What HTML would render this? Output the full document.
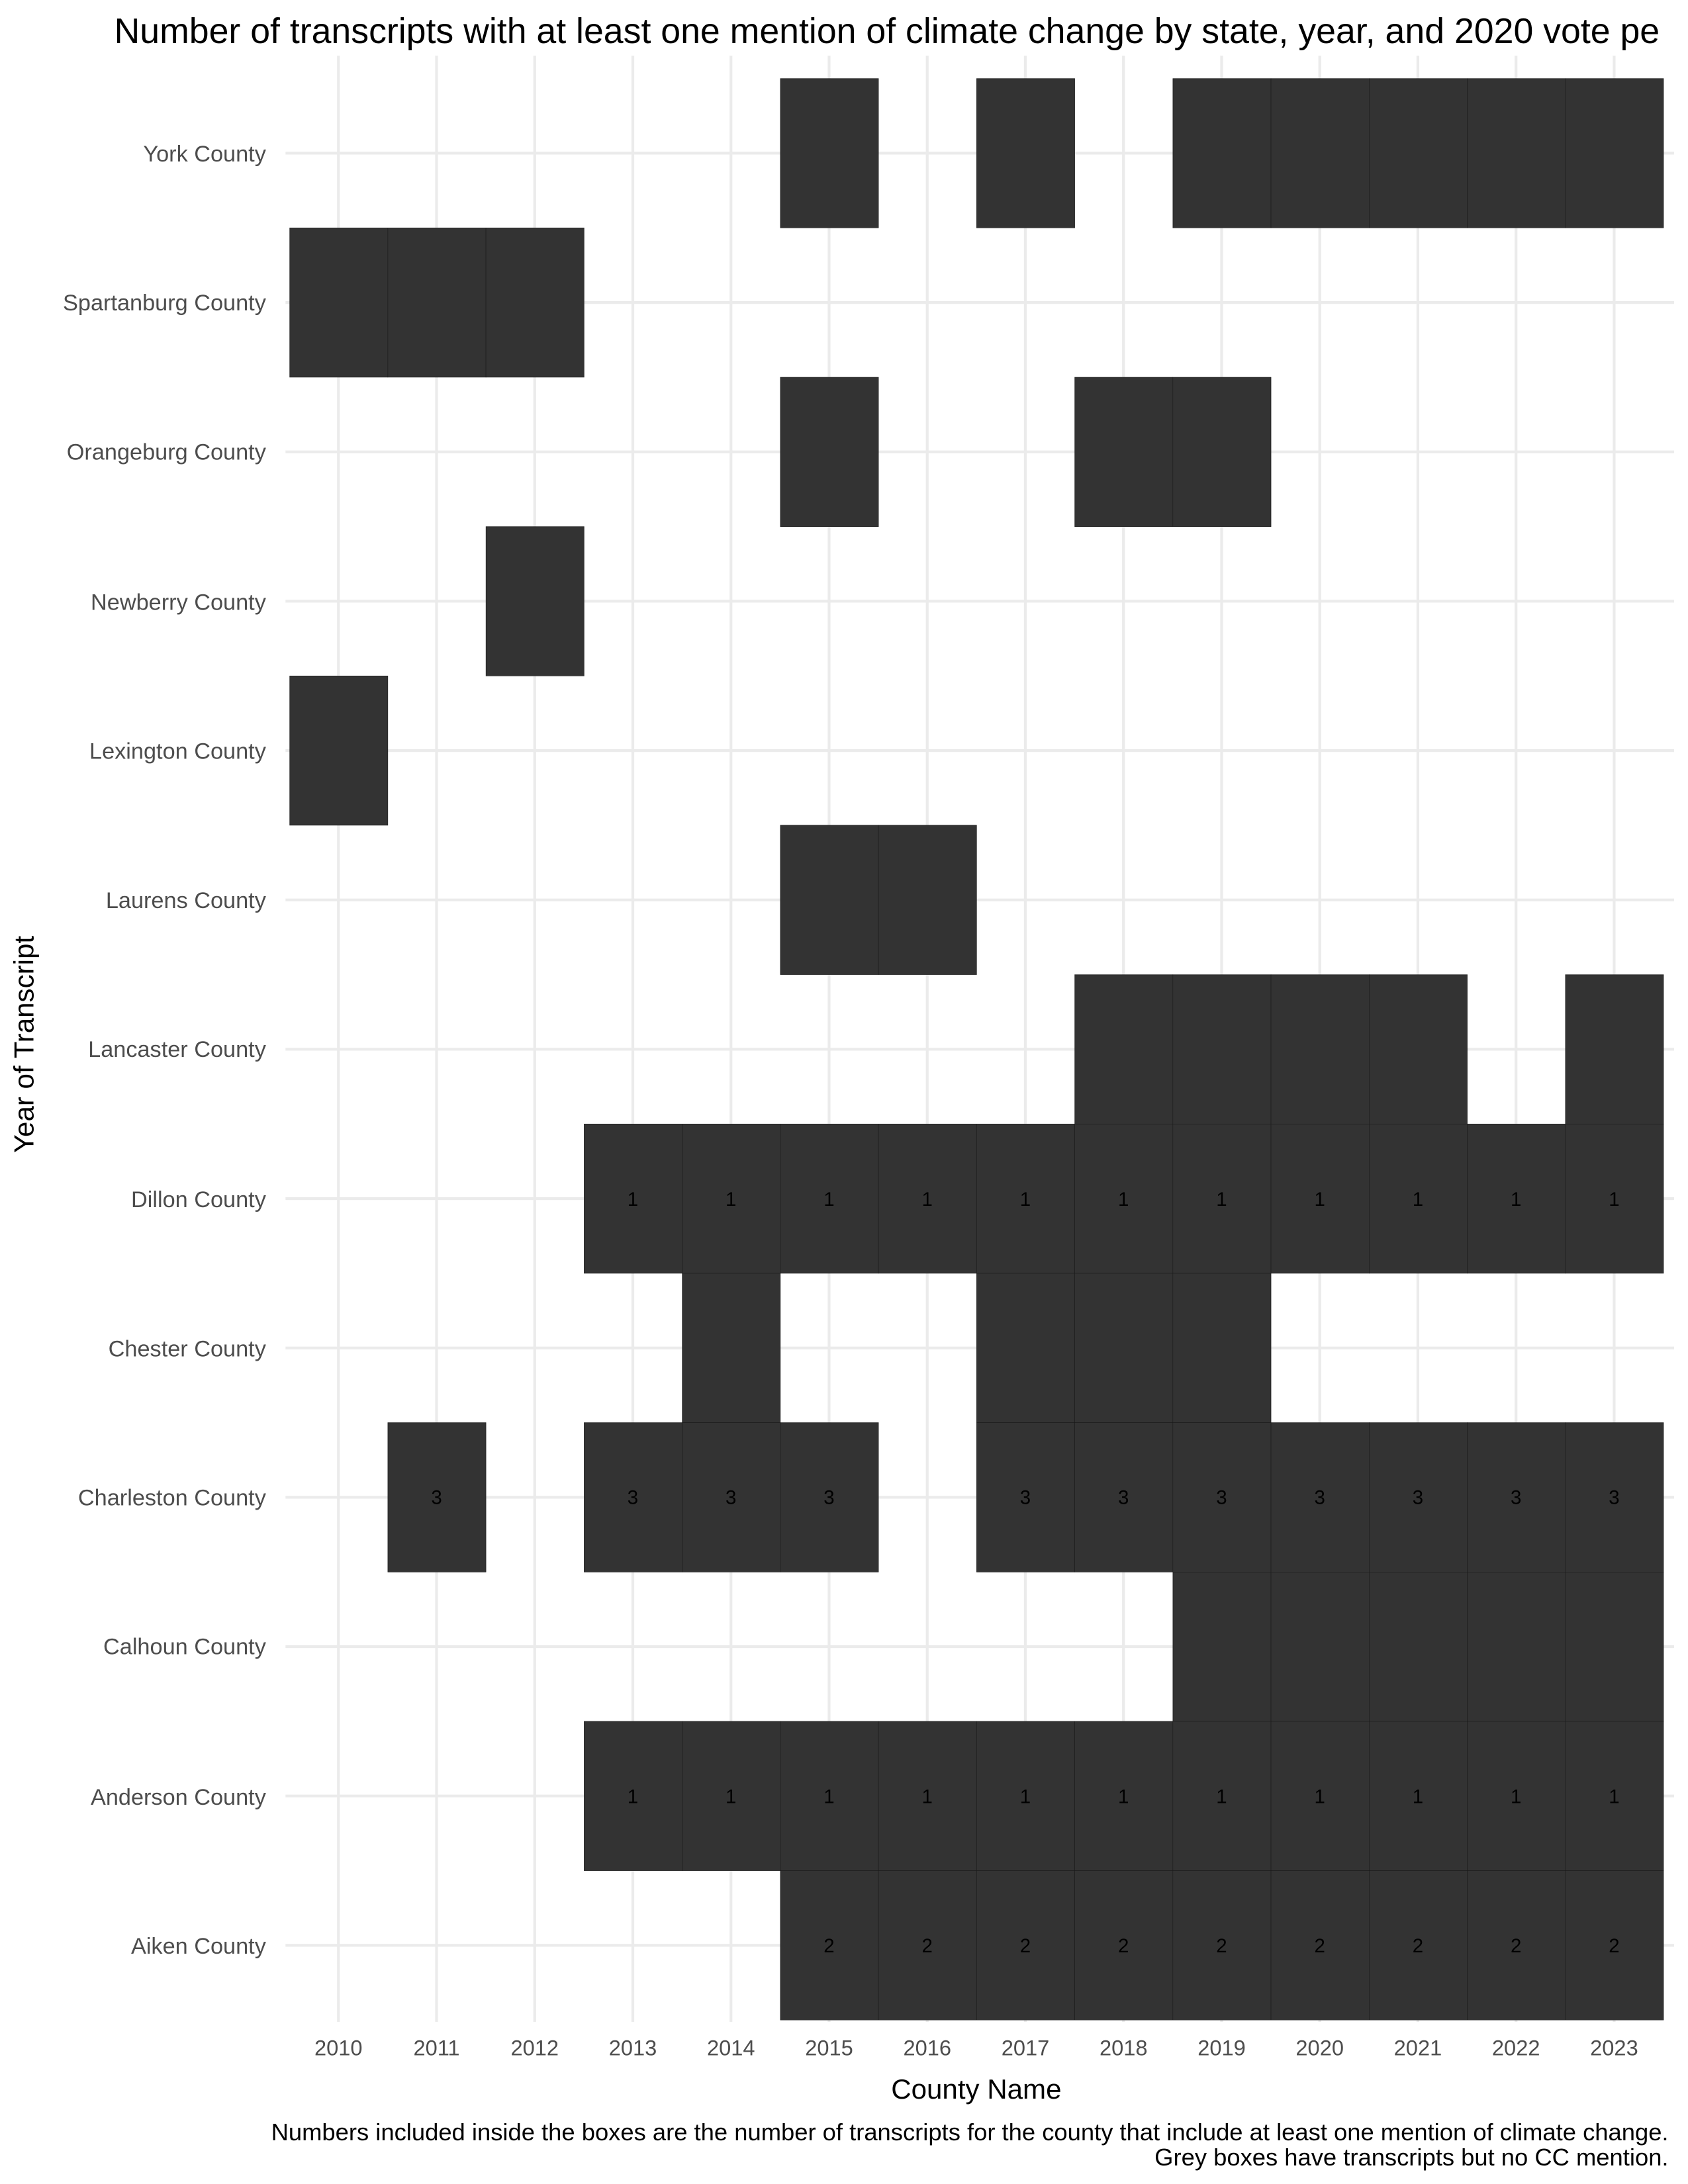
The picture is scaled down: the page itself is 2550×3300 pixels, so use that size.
<!DOCTYPE html>
<html><head><meta charset="utf-8"><style>html,body{margin:0;padding:0;background:#fff}svg{display:block}</style></head>
<body>
<svg width="2550" height="3300" viewBox="0 0 1212 1568.4" preserveAspectRatio="none" xmlns="http://www.w3.org/2000/svg" font-family="Liberation Sans, Arial, sans-serif">
<rect width="1212" height="1568.4" fill="#fff"/>
<g stroke="#ebebeb" stroke-width="2">
<line x1="205" x2="1202" y1="110" y2="110"/><line x1="205" x2="1202" y1="217.25" y2="217.25"/><line x1="205" x2="1202" y1="324.5" y2="324.5"/><line x1="205" x2="1202" y1="431.75" y2="431.75"/><line x1="205" x2="1202" y1="539" y2="539"/><line x1="205" x2="1202" y1="646.25" y2="646.25"/><line x1="205" x2="1202" y1="753.5" y2="753.5"/><line x1="205" x2="1202" y1="860.75" y2="860.75"/><line x1="205" x2="1202" y1="968" y2="968"/><line x1="205" x2="1202" y1="1075.25" y2="1075.25"/><line x1="205" x2="1202" y1="1182.5" y2="1182.5"/><line x1="205" x2="1202" y1="1289.75" y2="1289.75"/><line x1="205" x2="1202" y1="1397" y2="1397"/>
<line y1="40" y2="1452" x1="243" x2="243"/><line y1="40" y2="1452" x1="313.46" x2="313.46"/><line y1="40" y2="1452" x1="383.92" x2="383.92"/><line y1="40" y2="1452" x1="454.38" x2="454.38"/><line y1="40" y2="1452" x1="524.84" x2="524.84"/><line y1="40" y2="1452" x1="595.3" x2="595.3"/><line y1="40" y2="1452" x1="665.76" x2="665.76"/><line y1="40" y2="1452" x1="736.22" x2="736.22"/><line y1="40" y2="1452" x1="806.68" x2="806.68"/><line y1="40" y2="1452" x1="877.14" x2="877.14"/><line y1="40" y2="1452" x1="947.6" x2="947.6"/><line y1="40" y2="1452" x1="1018.06" x2="1018.06"/><line y1="40" y2="1452" x1="1088.52" x2="1088.52"/><line y1="40" y2="1452" x1="1158.98" x2="1158.98"/>
</g>
<g transform="translate(208,56.4) scale(70.46,107.25)" fill="#333333" stroke="#1a1a1a" stroke-width="0.6">
<rect x="5" y="0" width="1" height="1" vector-effect="non-scaling-stroke"/><rect x="7" y="0" width="1" height="1" vector-effect="non-scaling-stroke"/><rect x="9" y="0" width="1" height="1" vector-effect="non-scaling-stroke"/><rect x="10" y="0" width="1" height="1" vector-effect="non-scaling-stroke"/><rect x="11" y="0" width="1" height="1" vector-effect="non-scaling-stroke"/><rect x="12" y="0" width="1" height="1" vector-effect="non-scaling-stroke"/><rect x="13" y="0" width="1" height="1" vector-effect="non-scaling-stroke"/>
<rect x="0" y="1" width="1" height="1" vector-effect="non-scaling-stroke"/><rect x="1" y="1" width="1" height="1" vector-effect="non-scaling-stroke"/><rect x="2" y="1" width="1" height="1" vector-effect="non-scaling-stroke"/>
<rect x="5" y="2" width="1" height="1" vector-effect="non-scaling-stroke"/><rect x="8" y="2" width="1" height="1" vector-effect="non-scaling-stroke"/><rect x="9" y="2" width="1" height="1" vector-effect="non-scaling-stroke"/>
<rect x="2" y="3" width="1" height="1" vector-effect="non-scaling-stroke"/>
<rect x="0" y="4" width="1" height="1" vector-effect="non-scaling-stroke"/>
<rect x="5" y="5" width="1" height="1" vector-effect="non-scaling-stroke"/><rect x="6" y="5" width="1" height="1" vector-effect="non-scaling-stroke"/>
<rect x="8" y="6" width="1" height="1" vector-effect="non-scaling-stroke"/><rect x="9" y="6" width="1" height="1" vector-effect="non-scaling-stroke"/><rect x="10" y="6" width="1" height="1" vector-effect="non-scaling-stroke"/><rect x="11" y="6" width="1" height="1" vector-effect="non-scaling-stroke"/><rect x="13" y="6" width="1" height="1" vector-effect="non-scaling-stroke"/>
<rect x="3" y="7" width="1" height="1" vector-effect="non-scaling-stroke"/><rect x="4" y="7" width="1" height="1" vector-effect="non-scaling-stroke"/><rect x="5" y="7" width="1" height="1" vector-effect="non-scaling-stroke"/><rect x="6" y="7" width="1" height="1" vector-effect="non-scaling-stroke"/><rect x="7" y="7" width="1" height="1" vector-effect="non-scaling-stroke"/><rect x="8" y="7" width="1" height="1" vector-effect="non-scaling-stroke"/><rect x="9" y="7" width="1" height="1" vector-effect="non-scaling-stroke"/><rect x="10" y="7" width="1" height="1" vector-effect="non-scaling-stroke"/><rect x="11" y="7" width="1" height="1" vector-effect="non-scaling-stroke"/><rect x="12" y="7" width="1" height="1" vector-effect="non-scaling-stroke"/><rect x="13" y="7" width="1" height="1" vector-effect="non-scaling-stroke"/>
<rect x="4" y="8" width="1" height="1" vector-effect="non-scaling-stroke"/><rect x="7" y="8" width="1" height="1" vector-effect="non-scaling-stroke"/><rect x="8" y="8" width="1" height="1" vector-effect="non-scaling-stroke"/><rect x="9" y="8" width="1" height="1" vector-effect="non-scaling-stroke"/>
<rect x="1" y="9" width="1" height="1" vector-effect="non-scaling-stroke"/><rect x="3" y="9" width="1" height="1" vector-effect="non-scaling-stroke"/><rect x="4" y="9" width="1" height="1" vector-effect="non-scaling-stroke"/><rect x="5" y="9" width="1" height="1" vector-effect="non-scaling-stroke"/><rect x="7" y="9" width="1" height="1" vector-effect="non-scaling-stroke"/><rect x="8" y="9" width="1" height="1" vector-effect="non-scaling-stroke"/><rect x="9" y="9" width="1" height="1" vector-effect="non-scaling-stroke"/><rect x="10" y="9" width="1" height="1" vector-effect="non-scaling-stroke"/><rect x="11" y="9" width="1" height="1" vector-effect="non-scaling-stroke"/><rect x="12" y="9" width="1" height="1" vector-effect="non-scaling-stroke"/><rect x="13" y="9" width="1" height="1" vector-effect="non-scaling-stroke"/>
<rect x="9" y="10" width="1" height="1" vector-effect="non-scaling-stroke"/><rect x="10" y="10" width="1" height="1" vector-effect="non-scaling-stroke"/><rect x="11" y="10" width="1" height="1" vector-effect="non-scaling-stroke"/><rect x="12" y="10" width="1" height="1" vector-effect="non-scaling-stroke"/><rect x="13" y="10" width="1" height="1" vector-effect="non-scaling-stroke"/>
<rect x="3" y="11" width="1" height="1" vector-effect="non-scaling-stroke"/><rect x="4" y="11" width="1" height="1" vector-effect="non-scaling-stroke"/><rect x="5" y="11" width="1" height="1" vector-effect="non-scaling-stroke"/><rect x="6" y="11" width="1" height="1" vector-effect="non-scaling-stroke"/><rect x="7" y="11" width="1" height="1" vector-effect="non-scaling-stroke"/><rect x="8" y="11" width="1" height="1" vector-effect="non-scaling-stroke"/><rect x="9" y="11" width="1" height="1" vector-effect="non-scaling-stroke"/><rect x="10" y="11" width="1" height="1" vector-effect="non-scaling-stroke"/><rect x="11" y="11" width="1" height="1" vector-effect="non-scaling-stroke"/><rect x="12" y="11" width="1" height="1" vector-effect="non-scaling-stroke"/><rect x="13" y="11" width="1" height="1" vector-effect="non-scaling-stroke"/>
<rect x="5" y="12" width="1" height="1" vector-effect="non-scaling-stroke"/><rect x="6" y="12" width="1" height="1" vector-effect="non-scaling-stroke"/><rect x="7" y="12" width="1" height="1" vector-effect="non-scaling-stroke"/><rect x="8" y="12" width="1" height="1" vector-effect="non-scaling-stroke"/><rect x="9" y="12" width="1" height="1" vector-effect="non-scaling-stroke"/><rect x="10" y="12" width="1" height="1" vector-effect="non-scaling-stroke"/><rect x="11" y="12" width="1" height="1" vector-effect="non-scaling-stroke"/><rect x="12" y="12" width="1" height="1" vector-effect="non-scaling-stroke"/><rect x="13" y="12" width="1" height="1" vector-effect="non-scaling-stroke"/>
</g>
<g font-size="14" fill="#000" text-anchor="middle">
<text x="454.38" y="866">1</text><text x="524.84" y="866">1</text><text x="595.3" y="866">1</text><text x="665.76" y="866">1</text><text x="736.22" y="866">1</text><text x="806.68" y="866">1</text><text x="877.14" y="866">1</text><text x="947.6" y="866">1</text><text x="1018.06" y="866">1</text><text x="1088.52" y="866">1</text><text x="1158.98" y="866">1</text>
<text x="313.46" y="1080">3</text><text x="454.38" y="1080">3</text><text x="524.84" y="1080">3</text><text x="595.3" y="1080">3</text><text x="736.22" y="1080">3</text><text x="806.68" y="1080">3</text><text x="877.14" y="1080">3</text><text x="947.6" y="1080">3</text><text x="1018.06" y="1080">3</text><text x="1088.52" y="1080">3</text><text x="1158.98" y="1080">3</text>
<text x="454.38" y="1295">1</text><text x="524.84" y="1295">1</text><text x="595.3" y="1295">1</text><text x="665.76" y="1295">1</text><text x="736.22" y="1295">1</text><text x="806.68" y="1295">1</text><text x="877.14" y="1295">1</text><text x="947.6" y="1295">1</text><text x="1018.06" y="1295">1</text><text x="1088.52" y="1295">1</text><text x="1158.98" y="1295">1</text>
<text x="595.3" y="1402">2</text><text x="665.76" y="1402">2</text><text x="736.22" y="1402">2</text><text x="806.68" y="1402">2</text><text x="877.14" y="1402">2</text><text x="947.6" y="1402">2</text><text x="1018.06" y="1402">2</text><text x="1088.52" y="1402">2</text><text x="1158.98" y="1402">2</text>
</g>
<g font-size="16.3" fill="#4d4d4d" text-anchor="end">
<text x="191" y="116">York County</text><text x="191" y="223">Spartanburg County</text><text x="191" y="330">Orangeburg County</text><text x="191" y="438">Newberry County</text><text x="191" y="545">Lexington County</text><text x="191" y="652">Laurens County</text><text x="191" y="759">Lancaster County</text><text x="191" y="867">Dillon County</text><text x="191" y="974">Chester County</text><text x="191" y="1081">Charleston County</text><text x="191" y="1188">Calhoun County</text><text x="191" y="1296">Anderson County</text><text x="191" y="1403">Aiken County</text>
</g>
<g font-size="15.5" fill="#4d4d4d" text-anchor="middle">
<text x="243" y="1476">2010</text><text x="313.46" y="1476">2011</text><text x="383.92" y="1476">2012</text><text x="454.38" y="1476">2013</text><text x="524.84" y="1476">2014</text><text x="595.3" y="1476">2015</text><text x="665.76" y="1476">2016</text><text x="736.22" y="1476">2017</text><text x="806.68" y="1476">2018</text><text x="877.14" y="1476">2019</text><text x="947.6" y="1476">2020</text><text x="1018.06" y="1476">2021</text><text x="1088.52" y="1476">2022</text><text x="1158.98" y="1476">2023</text>
</g>
<text x="701" y="1507" font-size="20" text-anchor="middle" fill="#000">County Name</text>
<text transform="translate(24,750) rotate(-90)" font-size="20" text-anchor="middle" fill="#000">Year of Transcript</text>
<text x="82" y="31" font-size="25.5" fill="#000">Number of transcripts with at least one mention of climate change by state, year, and 2020 vote pe</text>
<g font-size="17.3" fill="#000" text-anchor="end">
<text x="1198" y="1537">Numbers included inside the boxes are the number of transcripts for the county that include at least one mention of climate change.</text>
<text x="1198" y="1555">Grey boxes have transcripts but no CC mention.</text>
</g>
</svg>
</body></html>
